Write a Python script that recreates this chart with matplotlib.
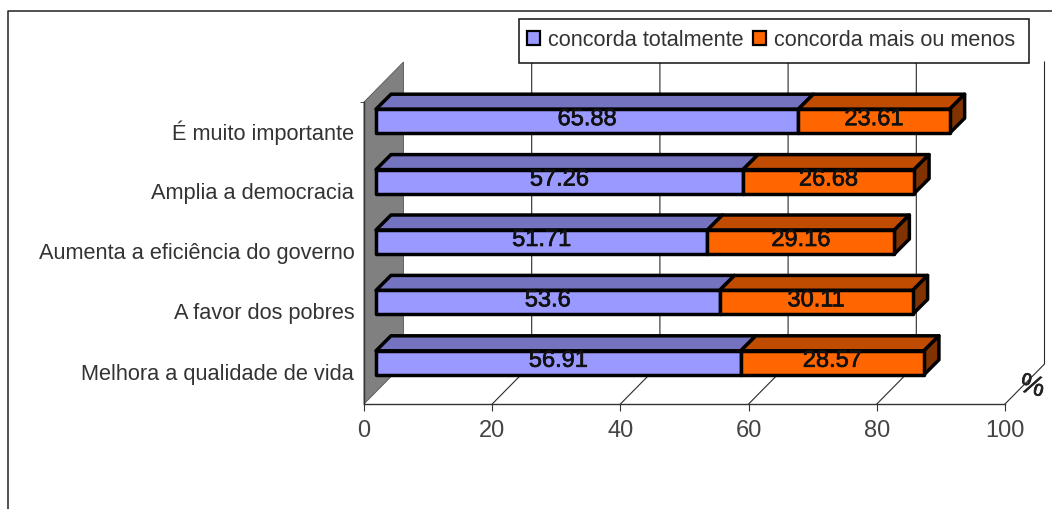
import matplotlib
matplotlib.use("Agg")
import matplotlib.pyplot as plt
import matplotlib.patheffects as pe
from matplotlib.lines import Line2D
from matplotlib.patches import Patch, Polygon, Rectangle
from matplotlib.transforms import ScaledTranslation

categories = ["É muito importante", "Amplia a democracia", "Aumenta a eficiência do governo",
              "A favor dos pobres", "Melhora a qualidade de vida"]
totalmente = [65.88, 57.26, 51.71, 53.6, 56.91]
mais_ou_menos = [23.61, 26.68, 29.16, 30.11, 28.57]
series_names = ["concorda totalmente", "concorda mais ou menos"]
x_ticks = [0, 20, 40, 60, 80, 100]

W, H = 1052, 510
plt.rcParams["font.family"] = ["Liberation Sans", "DejaVu Sans"]
fig = plt.figure(figsize=(W / 100, H / 100), dpi=100, facecolor="white")
L, R, T, B = 364, 1005, 103, 405
ax = fig.add_axes([L / W, 1 - B / H, (R - L) / W, (B - T) / H])
ax.set_xlim(0, 100)
ax.set_ylim(4.5, -0.5)
ax.patch.set_visible(False)
for s in ("top", "right"):
    ax.spines[s].set_visible(False)
for s in ("left", "bottom"):
    ax.spines[s].set_color("#333333")
    ax.spines[s].set_linewidth(1.0)

PX = 100 / (R - L)      # data units per pixel, x
PY = -5 / (B - T)       # data units per pixel upward, y
DEPTH_X = 39.5
DEPTH_Y = 40
FRONT_X = 12
FRONT_Y = 11
BAR_D = 15
BAR_H = 24

# walls and gridlines
ax.add_patch(Polygon([(0, -0.5), (DEPTH_X * PX, -0.5 + DEPTH_Y * PY), (DEPTH_X * PX, 4.5 + DEPTH_Y * PY), (0, 4.5)],
                     closed=True, fc="#808080", ec="#555555", lw=0.6, zorder=1, clip_on=False))
for t in x_ticks[1:]:
    ax.plot([t, t + DEPTH_X * PX, t + DEPTH_X * PX], [4.5, 4.5 + DEPTH_Y * PY, -0.5 + DEPTH_Y * PY],
            color="#2a2a2a", lw=0.8, zorder=1.5, clip_on=False)

# bars
colors = [("#9999FF", "#7373BF", "#4D4D80"), ("#FF6600", "#BF4C00", "#803300")]
edge = dict(ec="black", lw=2.5, joinstyle="round", clip_on=False)
for i, cat in enumerate(categories):
    yc = i + FRONT_Y * PY
    y_top = yc - (BAR_H / 2) * abs(PY)
    y_bot = yc + (BAR_H / 2) * abs(PY)
    starts = [0, totalmente[i]]
    vals = [totalmente[i], mais_ou_menos[i]]
    for j in (0, 1):
        x0 = starts[j] + FRONT_X * PX
        x1 = x0 + vals[j]
        c, ct, cs = colors[j]
        ax.add_patch(Polygon([(x0, y_top), (x1, y_top), (x1 + BAR_D * PX, y_top + BAR_D * PY),
                              (x0 + BAR_D * PX, y_top + BAR_D * PY)], closed=True, fc=ct, zorder=3 + j, **edge))
        if j == 1:
            ax.add_patch(Polygon([(x1, y_top), (x1 + BAR_D * PX, y_top + BAR_D * PY),
                                  (x1 + BAR_D * PX, y_bot + BAR_D * PY), (x1, y_bot)],
                                 closed=True, fc=cs, zorder=3 + j, **edge))
        ax.barh(yc, vals[j], left=x0, height=BAR_H * abs(PY), color=c, zorder=3 + j, **edge)
        ax.text(x0 + vals[j] / 2, yc + 2 * PY, f"{vals[j]:g}", ha="center", va="center",
                fontsize=17, color="#111111", zorder=6,
                path_effects=[pe.withStroke(linewidth=0.5, foreground="#111111")])

# axes
ax.set_xticks(x_ticks)
ax.set_yticks(range(len(categories)), categories)
ax.set_yticks([-0.5], minor=True)
ax.tick_params(axis="y", which="major", length=0, pad=7, labelsize=15.7, labelcolor="#333333")
ax.tick_params(axis="y", which="minor", length=3, color="#333333")
ax.tick_params(axis="x", length=5, color="#333333", pad=6, labelsize=17, labelcolor="#444444")
up = ScaledTranslation(0, 3 / 100, fig.dpi_scale_trans)
for lab in ax.get_yticklabels():
    lab.set_transform(lab.get_transform() + up)

ax.text(100 + 27 * PX, 4.5 + 17 * PY, "%", fontsize=20, rotation=-15, ha="center", va="center",
        color="#222222", clip_on=False, path_effects=[pe.withStroke(linewidth=0.4, foreground="#222222")])

# legend
fig.add_artist(Rectangle((519 / W, 1 - 64 / H), 510 / W, 44 / H, transform=fig.transFigure,
                         fc="white", ec="#111111", lw=1.1, zorder=9))
handles = [Patch(fc=colors[k][0], ec="black", lw=1.6, label=series_names[k]) for k in (0, 1)]
leg = fig.legend(handles=handles, loc="center left", ncol=2, frameon=False,
                 bbox_to_anchor=(527 / W, 1 - 41 / H), borderaxespad=0, borderpad=0,
                 fontsize=15.6, handlelength=0.6, handleheight=0.6,
                 handletextpad=0.38, columnspacing=0.4, labelcolor="#333333")
leg.set_zorder(10)

# outer frame
fig.add_artist(Line2D([8 / W, 8 / W, 1], [0, 1 - 12 / H, 1 - 12 / H], color="#222222", lw=1.1))

fig.savefig("out.png", dpi=100)
